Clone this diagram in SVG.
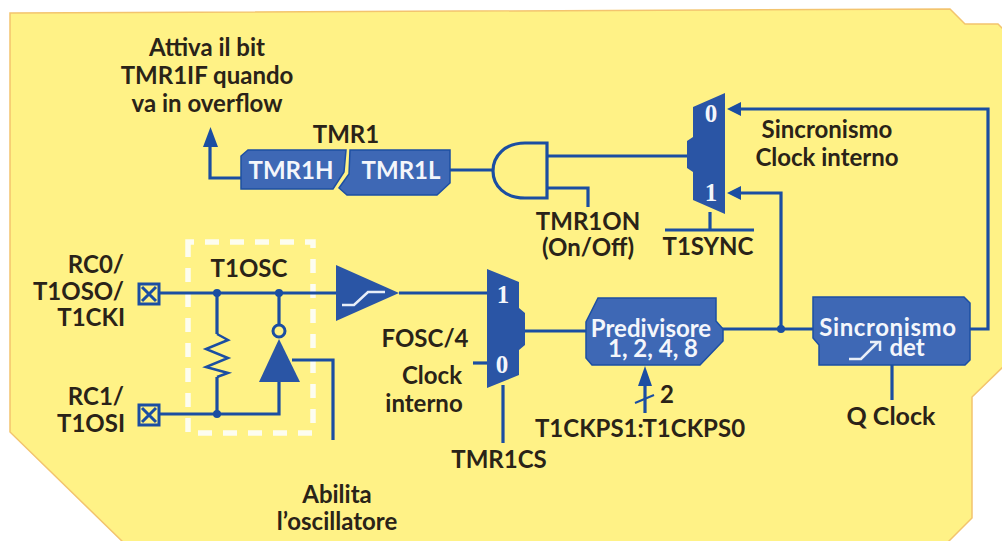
<svg xmlns="http://www.w3.org/2000/svg" width="1002" height="541" viewBox="0 0 1002 541">
<style>
text{font-family:"Lato","Open Sans",sans-serif;font-weight:700;fill:#2a2318;font-size:24px;text-anchor:middle}
.w{fill:#f4f6fb}
.n{font-family:"Liberation Serif",serif;font-size:25px}
.b{fill:#3e68b5;stroke:#1d4fa3;stroke-width:1.5}
.d{fill:#2a55a5}
.c{fill:none;stroke:#1b4ea2;stroke-width:3.2}
.j{fill:#1b4ea2}
.e{text-anchor:end}
</style>
<rect width="1002" height="541" fill="#fff"/>
<path id="panel" d="M10 13L950 9L965 24H998L1006 32V364L972 397V518L945 545H126L10 432Z" fill="#fff286" stroke="#f3c46e" stroke-width="1.5"/>
<g id="t1osc-box">
<path d="M188 250V242H313V433H188Z" fill="none" stroke="#fdfdf0" stroke-width="5.500" stroke-dasharray="14 11"/>
<text x="249" y="277">T1OSC</text>
</g>
<g id="connectors">
<path class="c" d="M241 178H210V140"/>
<path class="j" d="M203 147L210.500 127L218 147Z"/>
<path class="c" d="M450 170H492"/>
<path class="c" d="M547 156H688"/>
<path class="c" d="M547 188H588V207"/>
<path class="c" d="M710 212V230"/>
<path class="c" d="M665 230H754"/>
<path class="c" d="M970 329H988V109H735"/>
<path class="j" d="M727 109L741 102V116Z"/>
<path class="c" d="M781 329V193H735"/>
<path class="j" d="M727 193L741 186V200Z"/>
<path class="c" d="M160 293H336"/>
<path class="c" d="M399 293H488"/>
<path class="c" d="M217 293V334M217 377V414"/>
<path d="M217 334L228 340L206 349L228 358L206 367L228 373L217 377" fill="none" stroke="#1b4ea2" stroke-width="2.500"/>
<path class="c" d="M279 293V326"/>
<path class="c" d="M160 414H279V382"/>
<path class="c" d="M292 360H333V440"/>
<path class="c" d="M524 331H587"/>
<path class="c" d="M722 329H815"/>
<path class="c" d="M473 363H488"/>
<path class="c" d="M503 385V443"/>
<path class="c" d="M645 380V413"/>
<path class="j" d="M638 386L645 366L652 386Z"/>
<path d="M635 403L654 395" fill="none" stroke="#1b4ea2" stroke-width="2"/>
<path class="c" d="M892 365V400"/>
<circle class="j" cx="217" cy="293" r="4"/>
<circle class="j" cx="279" cy="293" r="4"/>
<circle class="j" cx="217" cy="414" r="4"/>
<circle class="j" cx="781" cy="329" r="4"/>
</g>
<g id="note"><text x="207" y="56">Attiva il bit</text><text x="207" y="84">TMR1IF quando</text><text x="207" y="112">va in overflow</text></g>
<g id="tmr1">
<text x="346" y="143">TMR1</text>
<path class="b" d="M248 150H346L344 172L333 189H241V156Z"/>
<path class="b" d="M350 150H450V183L437 195H347L339 188L349 174Z"/>
<text class="w" x="291" y="179">TMR1H</text><text class="w" x="401" y="179">TMR1L</text>
</g>
<g id="and"><path d="M547 143H525C505 143 493 156 493 171C493 186 505 198 525 198H547Z" fill="#fff286" stroke="#1b4ea2" stroke-width="3.200"/>
<text x="588" y="230">TMR1ON</text><text x="588" y="256">(On/Off)</text></g>
<g id="mux-sync">
<path class="d" d="M693 107L725 93V214L693 200V172L687 168V141L693 137Z"/>
<text class="w n" x="711" y="122">0</text><text class="w n" x="711" y="201">1</text>
<text x="708" y="255">T1SYNC</text>
<text x="827" y="138">Sincronismo</text><text x="827" y="166">Clock interno</text>
</g>
<g id="pin-rc0"><rect x="139" y="284" width="20" height="20" fill="#fff286" stroke="#1b4ea2" stroke-width="3"/><path d="M142 287L156 301M156 287L142 301" stroke="#1b4ea2" stroke-width="3"/>
<text class="e" x="124" y="273">RC0/</text><text class="e" x="124" y="300">T1OSO/</text><text class="e" x="125" y="326">T1CKI</text></g>
<g id="pin-rc1"><rect x="139" y="405" width="20" height="20" fill="#fff286" stroke="#1b4ea2" stroke-width="3"/><path d="M142 408L156 422M156 408L142 422" stroke="#1b4ea2" stroke-width="3"/>
<text class="e" x="124" y="405">RC1/</text><text class="e" x="125" y="432">T1OSI</text></g>
<g id="schmitt"><path class="d" d="M336 265L399 293L336 321Z"/><path d="M342 305H354L368 292H385" fill="none" stroke="#e8eef8" stroke-width="2.500"/></g>
<g id="inverter"><circle cx="279" cy="331" r="6" fill="#fff286" stroke="#1b4ea2" stroke-width="3"/><path class="d" d="M279 339L300 382H259Z"/></g>
<g id="mux-clk">
<path class="d" d="M487 269L519 282V308L525 313V345L519 350V375L487 388Z"/>
<text class="w n" x="503" y="303">1</text><text class="w n" x="502" y="373">0</text>
<text x="425" y="347">FOSC/4</text><text x="432" y="384">Clock</text><text x="424" y="412">interno</text>
<text x="499" y="468">TMR1CS</text>
</g>
<g id="predivisore"><path class="b" d="M598 298H716V321L723 329V341L700 365H592L586 358V322Z"/>
<text class="w" x="651" y="337">Predivisore</text><text class="w" x="653" y="357">1, 2, 4, 8</text></g>
<text x="667" y="403" id="bus-2">2</text>
<text x="640" y="437" id="t1ckps">T1CKPS1:T1CKPS0</text>
<g id="sync-det"><path class="b" d="M813 297H964L970 303V360L965 365H819V345L813 338Z"/>
<text class="w" x="888" y="336" style="letter-spacing:.6px">Sincronismo</text><text class="w" x="907" y="356">det</text>
<path d="M849 359H861L878 342M870 342H880V351" fill="none" stroke="#e8eef8" stroke-width="2.500"/></g>
<text x="891" y="425" id="qclock" style="font-size:25px">Q Clock</text>
<g id="abilita"><text x="337" y="503">Abilita</text><text x="337" y="530">l’oscillatore</text></g>
</svg>
